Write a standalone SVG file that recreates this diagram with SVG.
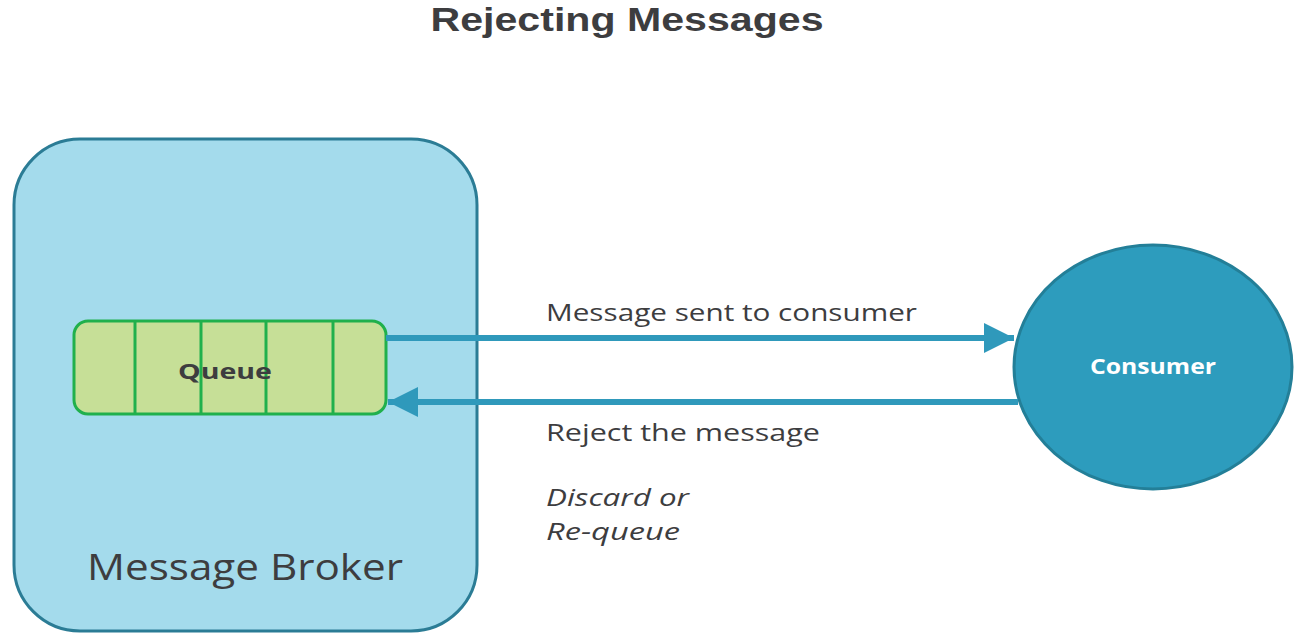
<svg xmlns="http://www.w3.org/2000/svg" width="1311" height="640" viewBox="0 0 1311 640">
<defs>
<style>
.t{font-family:"Open Sans","Liberation Sans",sans-serif;fill:#3d3d3f}
.conn{stroke:#2f99bb;stroke-width:6;fill:none}
</style>
<marker id="ah" viewBox="0 0 10 10" refX="10" refY="5" markerWidth="5" markerHeight="5" orient="auto" markerUnits="strokeWidth">
<path d="M0,0 L10,5 L0,10 z" fill="#2f99bb"/>
</marker>
</defs>
<rect width="1311" height="640" fill="#ffffff"/>
<text x="627" y="31" text-anchor="middle" font-family="Liberation Sans, Arial, sans-serif" fill="#3d3d3f" font-size="34" font-weight="700" textLength="393" lengthAdjust="spacingAndGlyphs">Rejecting Messages</text>
<g id="broker">
<rect x="14" y="139" width="463" height="492" rx="66" fill="#a4dbec" stroke="#2b7c95" stroke-width="3"/>
<text class="t" x="245" y="580" text-anchor="middle" font-size="36" textLength="316" lengthAdjust="spacingAndGlyphs">Message Broker</text>
</g>
<g id="queue">
<rect x="74" y="321" width="312" height="93" rx="14" fill="#c6df97" stroke="#20b04c" stroke-width="3"/>
<g stroke="#20b04c" stroke-width="3">
<line x1="135" y1="321" x2="135" y2="414"/>
<line x1="201" y1="321" x2="201" y2="414"/>
<line x1="266" y1="321" x2="266" y2="414"/>
<line x1="333" y1="321" x2="333" y2="414"/>
</g>
<text class="t" x="225" y="379" text-anchor="middle" font-size="22" font-weight="700" textLength="94" lengthAdjust="spacingAndGlyphs">Queue</text>
</g>
<g id="consumer">
<ellipse cx="1153" cy="367" rx="139" ry="122" fill="#2d9cbd" stroke="#237f98" stroke-width="3"/>
<text x="1153" y="374" text-anchor="middle" font-family="Open Sans, Liberation Sans, sans-serif" font-size="21" font-weight="700" fill="#ffffff" textLength="126" lengthAdjust="spacingAndGlyphs">Consumer</text>
</g>
<g id="connectors">
<line class="conn" x1="386" y1="338" x2="1014" y2="338" marker-end="url(#ah)"/>
<line class="conn" x1="1018" y1="402" x2="388" y2="402" marker-end="url(#ah)"/>
</g>
<g id="labels">
<text class="t" x="546" y="321" font-size="24" font-weight="500" textLength="371" lengthAdjust="spacingAndGlyphs">Message sent to consumer</text>
<text class="t" x="546" y="441" font-size="24" font-weight="500" textLength="274" lengthAdjust="spacingAndGlyphs">Reject the message</text>
<text class="t" x="546" y="506" font-size="24" font-style="italic" font-weight="500" textLength="143" lengthAdjust="spacingAndGlyphs">Discard or</text>
<text class="t" x="546" y="540" font-size="24" font-style="italic" font-weight="500" textLength="134" lengthAdjust="spacingAndGlyphs">Re-queue</text>
</g>
</svg>
